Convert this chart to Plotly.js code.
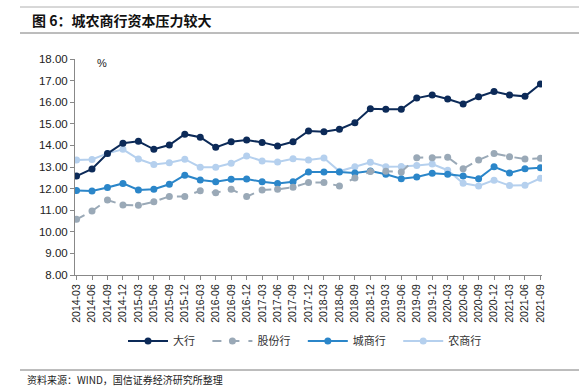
<!DOCTYPE html>
<html>
<head>
<meta charset="utf-8">
<script src="https://cdn.plot.ly/plotly-3.0.1.min.js"></script>
<style>
html,body{margin:0;padding:0;background:#fff;}
#chart{width:579px;height:389px;}
</style>
</head>
<body>
<div id="chart"></div>
<script>
const quarters = ["2014-03","2014-06","2014-09","2014-12","2015-03","2015-06","2015-09","2015-12",
"2016-03","2016-06","2016-09","2016-12","2017-03","2017-06","2017-09","2017-12",
"2018-03","2018-06","2018-09","2018-12","2019-03","2019-06","2019-09","2019-12",
"2020-03","2020-06","2020-09","2020-12","2021-03","2021-06","2021-09"];
const bigBanks = [12.58,12.91,13.62,14.10,14.19,13.82,14.02,14.52,14.38,13.91,14.17,14.25,14.14,13.97,14.17,14.67,14.63,14.75,15.05,15.70,15.67,15.67,16.19,16.33,16.15,15.92,16.25,16.49,16.33,16.27,16.84];
const jointStock = [10.58,10.96,11.47,11.24,11.23,11.39,11.64,11.63,11.90,11.81,11.97,11.63,11.94,11.97,12.06,12.28,12.28,12.12,12.49,12.79,12.80,12.77,13.43,13.43,13.45,12.92,13.32,13.63,13.48,13.37,13.40];
const cityBanks = [11.91,11.89,12.05,12.24,11.94,11.97,12.20,12.62,12.40,12.32,12.43,12.44,12.32,12.24,12.32,12.77,12.77,12.77,12.72,12.81,12.66,12.46,12.54,12.71,12.66,12.58,12.46,13.01,12.72,12.92,12.97];
const ruralBanks = [13.32,13.35,13.63,13.82,13.37,13.12,13.20,13.36,12.99,12.99,13.17,13.51,13.28,13.23,13.38,13.32,13.42,12.80,13.01,13.22,13.01,13.02,13.07,13.14,12.85,12.25,12.12,12.39,12.14,12.15,12.48];
const seriesNames = ["大行","股份行","城商行","农商行"];
const yTicks = [8,9,10,11,12,13,14,15,16,17,18];

const colors = ["#0c2a58","#9aa9b7","#2b86c9","#b5d0ee"];
const dataSets = [bigBanks, jointStock, cityBanks, ruralBanks];
const traces = dataSets.map((d,i)=>({
  x: quarters, y: d, name: seriesNames[i] + '&nbsp;&nbsp;&nbsp;', type:'scatter', mode:'lines+markers',
  line:{color:colors[i], width:2, dash: i===1 ? 'dash' : 'solid'},
  marker:{color:colors[i], size:7}
}));
const ordered = traces.slice().reverse();

const L=75, R=542, T=59, B=275;
const W=R-L, H=B-T;
const px = x => (x-L)/W;
const py = y => (B-y)/H;

const layout = {
  width:579, height:389,
  margin:{l:L, r:579-R, t:T, b:389-B, pad:0},
  paper_bgcolor:'#fff', plot_bgcolor:'#fff',
  font:{family:'"Liberation Sans", Arial, "Noto Sans CJK SC", sans-serif', size:11, color:'#222'},
  showlegend:true,
  legend:{orientation:'h', traceorder:'reversed', x:0.5, xanchor:'center', y:py(341), yanchor:'middle',
    font:{family:'"Noto Sans CJK SC", sans-serif', size:11, color:'#333'},
    itemwidth:40, tracegroupgap:0, bgcolor:'rgba(0,0,0,0)'},
  xaxis:{type:'category', range:[-0.1, 30.1], showgrid:false, zeroline:false,
    showline:true, linecolor:'#888', linewidth:1,
    ticks:'outside', ticklen:4, tickcolor:'#888', tickangle:-90,
    tickfont:{family:'"Liberation Sans", Arial, sans-serif', size:10.5, color:'#222'},
    fixedrange:true},
  yaxis:{range:[8,18], tickvals:yTicks, ticktext:yTicks.map(v=>v.toFixed(2)),
    showgrid:false, zeroline:false, showline:true, linecolor:'#888', linewidth:1,
    ticks:'outside', ticklen:4, tickcolor:'#888',
    tickfont:{family:'"Liberation Sans", Arial, sans-serif', size:11.5, color:'#222'},
    fixedrange:true},
  shapes:[
    {type:'line', xref:'paper', yref:'paper', x0:px(20), x1:px(579), y0:py(7), y1:py(7), line:{color:'#b0b0b0', width:1}},
    {type:'line', xref:'paper', yref:'paper', x0:px(20), x1:px(579), y0:py(33), y1:py(33), line:{color:'#7a7a7a', width:1}},
    {type:'line', xref:'paper', yref:'paper', x0:px(20), x1:px(579), y0:py(370), y1:py(370), line:{color:'#7a7a7a', width:1}}
  ],
  annotations:[
    {xref:'paper', yref:'paper', x:px(30), y:py(20), xanchor:'left', yanchor:'middle', showarrow:false,
     text:'<b>图 6：城农商行资本压力较大</b>', font:{family:'"Noto Sans CJK SC", sans-serif', size:14, color:'#111'}},
    {xref:'paper', yref:'paper', x:px(95), y:py(63), xanchor:'left', yanchor:'middle', showarrow:false,
     text:'%', font:{family:'"Liberation Sans", Arial, sans-serif', size:11, color:'#222'}},
    {xref:'paper', yref:'paper', x:px(25), y:py(379), xanchor:'left', yanchor:'middle', showarrow:false,
     text:'资料来源：WIND，国信证券经济研究所整理', font:{family:'"Noto Sans CJK SC", sans-serif', size:10, color:'#222'}}
  ]
};

Plotly.newPlot('chart', ordered, layout, {displayModeBar:false, staticPlot:true});
</script>
</body>
</html>
